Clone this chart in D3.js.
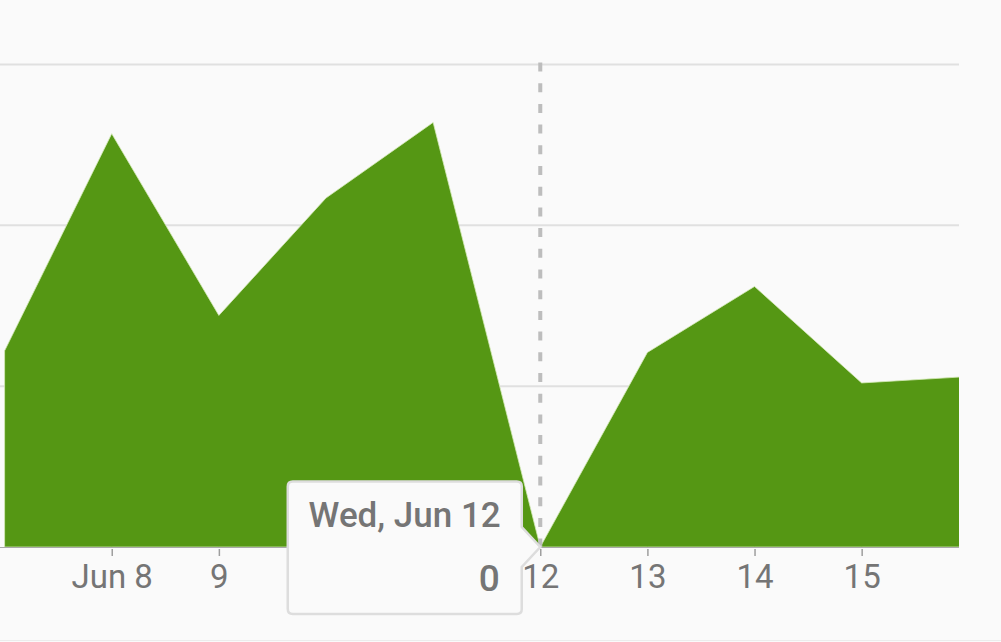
<!DOCTYPE html>
<html>
<head>
<meta charset="utf-8">
<script src="https://cdn.jsdelivr.net/npm/d3@7"></script>
<style>
  html, body { margin: 0; padding: 0; background: #fafafa; }
  svg { display: block; font-family: Roboto, "Noto Sans", sans-serif; }
</style>
</head>
<body>
<div class="canva"></div>
<script>
// daily values, Jun 7 - Jun 16 2019
const days = ['2019-06-07','2019-06-08','2019-06-09','2019-06-10','2019-06-11',
              '2019-06-12','2019-06-13','2019-06-14','2019-06-15','2019-06-16'];
const values = [122, 257, 144, 217, 264, 0, 121, 162, 102, 106];
const gridValues = [0, 100, 200, 300];
const tickDays = ['2019-06-08','2019-06-09','2019-06-10','2019-06-11',
                  '2019-06-12','2019-06-13','2019-06-14','2019-06-15'];
const hoverDay = '2019-06-12';

const W = 1001, H = 642;
const plotRight = 959;

const parse = d3.timeParse('%Y-%m-%d');
const data = days.map((d, i) => ({date: parse(d), value: values[i]}));

const svg = d3.select('.canva').append('svg')
  .attr('width', W)
  .attr('height', H);

svg.append('rect').attr('width', W).attr('height', H).attr('fill', '#fafafa');

const x = d3.scaleTime()
  .domain(d3.extent(data, d => d.date))
  .range([4.6, 968.8]);

const y = d3.scaleLinear()
  .domain([0, 300])
  .range([547, 64.5]);

// gridlines
svg.append('g')
  .selectAll('line')
  .data(gridValues.slice(1))
  .enter()
  .append('line')
  .attr('x1', 0)
  .attr('x2', plotRight)
  .attr('y1', d => y(d))
  .attr('y2', d => y(d))
  .attr('stroke', '#e0e0e0')
  .attr('stroke-width', 2);

// area, clipped to plot
svg.append('clipPath').attr('id', 'plotclip')
  .append('rect').attr('x', 0).attr('y', 0).attr('width', plotRight).attr('height', H);

const area = d3.area()
  .x(d => x(d.date))
  .y0(y(0))
  .y1(d => y(d.value));

svg.append('path')
  .datum(data)
  .attr('clip-path', 'url(#plotclip)')
  .attr('d', area)
  .attr('fill', '#559714')
  .attr('stroke', '#d4eab8')
  .attr('stroke-width', 0.8);

// baseline
svg.append('line')
  .attr('x1', 0).attr('x2', plotRight)
  .attr('y1', y(0) + 0.5).attr('y2', y(0) + 0.5)
  .attr('stroke', '#a8a8a8')
  .attr('stroke-width', 1);

// x axis
const fmtFirst = d3.timeFormat('%b %-d');
const fmtDay = d3.timeFormat('%-d');
const xAxis = d3.axisBottom(x)
  .tickValues(tickDays.map(parse))
  .tickSize(7)
  .tickPadding(9)
  .tickFormat((d, i) => i === 0 ? fmtFirst(d) : fmtDay(d));

const ax = svg.append('g')
  .attr('transform', 'translate(0,' + (y(0) + 2) + ')')
  .call(xAxis);
ax.select('.domain').remove();
ax.selectAll('.tick line').attr('stroke', '#9e9e9e').attr('stroke-width', 1.5);
ax.selectAll('.tick text')
  .attr('fill', '#757575')
  .style('font-size', '33px')
  .style('font-family', 'Roboto, sans-serif');

// hover line
const hx = x(parse(hoverDay));
const hv = values[days.indexOf(hoverDay)];
svg.append('line')
  .attr('x1', hx).attr('x2', hx)
  .attr('y1', y(300) - 2).attr('y2', y(0))
  .attr('stroke', '#bdbdbd')
  .attr('stroke-width', 4)
  .attr('stroke-dasharray', '9,11.7');

// tooltip with pointer
const tipX = hx, tipY = y(hv);
const R = tipX - 18.5, L = R - 234, T = 481.5, B = 614, r = 5;
const tipPath = 'M' + (L + r) + ',' + T +
  ' H' + (R - r) + ' Q' + R + ',' + T + ' ' + R + ',' + (T + r) +
  ' V' + (tipY - 20) + ' L' + tipX + ',' + tipY + ' L' + R + ',' + (tipY + 20) +
  ' V' + (B - r) + ' Q' + R + ',' + B + ' ' + (R - r) + ',' + B +
  ' H' + (L + r) + ' Q' + L + ',' + B + ' ' + L + ',' + (B - r) +
  ' V' + (T + r) + ' Q' + L + ',' + T + ' ' + (L + r) + ',' + T + ' Z';

const tip = svg.append('g');
tip.append('path')
  .attr('d', tipPath)
  .attr('fill', '#fafafa')
  .attr('stroke', '#dddddd')
  .attr('stroke-width', 2.5);

tip.append('text')
  .attr('x', R - 21)
  .attr('y', 527)
  .attr('text-anchor', 'end')
  .attr('fill', '#757575')
  .style('font-size', '35px')
  .style('font-weight', 500)
  .text(d3.timeFormat('%a, %b %-d')(parse(hoverDay)));

tip.append('text')
  .attr('x', R - 22)
  .attr('y', 591)
  .attr('text-anchor', 'end')
  .attr('fill', '#757575')
  .style('font-size', '37px')
  .style('font-weight', 500)
  .text(hv);

// card edge at bottom
svg.append('line')
  .attr('x1', 0).attr('x2', W)
  .attr('y1', H - 1.5).attr('y2', H - 1.5)
  .attr('stroke', '#ececec')
  .attr('stroke-width', 1);
</script>
</body>
</html>
